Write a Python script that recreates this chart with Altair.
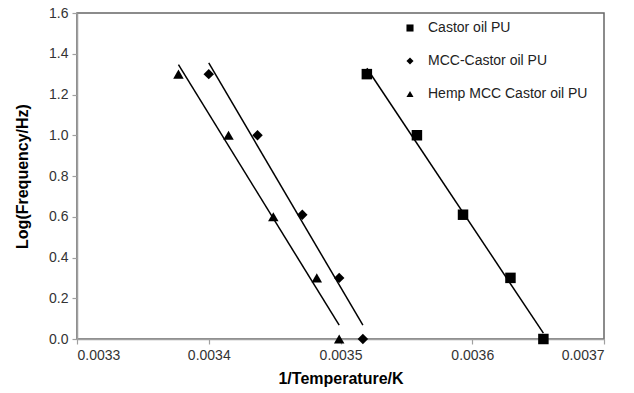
import altair as alt
import pandas as pd

series_names = ["Castor oil PU", "MCC-Castor oil PU", "Hemp MCC Castor oil PU"]

castor_x = [0.003520, 0.003558, 0.003593, 0.003629, 0.003654]
castor_y = [1.30, 1.00, 0.61, 0.30, 0.00]

mcc_x = [0.003400, 0.003437, 0.003471, 0.003499, 0.003517]
mcc_y = [1.30, 1.00, 0.61, 0.30, 0.00]

hemp_x = [0.003377, 0.003415, 0.003449, 0.003482, 0.003499]
hemp_y = [1.30, 1.00, 0.60, 0.30, 0.00]

x_ticks = [0.0033, 0.0034, 0.0035, 0.0036, 0.0037]
y_ticks = [0.0, 0.2, 0.4, 0.6, 0.8, 1.0, 1.2, 1.4, 1.6]

rows = []
for name, xs, ys in zip(series_names, [castor_x, mcc_x, hemp_x], [castor_y, mcc_y, hemp_y]):
    for xv, yv in zip(xs, ys):
        rows.append({"series": name, "invT": xv, "logf": yv})
df = pd.DataFrame(rows)

FONT = "Liberation Sans"

x_enc = alt.X(
    "invT:Q",
    scale=alt.Scale(domain=[0.0033, 0.0037], nice=False, zero=False),
    axis=alt.Axis(
        values=x_ticks, format=".4f", title="1/Temperature/K",
        grid=False, tickSize=5, labelPadding=4, titlePadding=8,
    ),
)
y_enc = alt.Y(
    "logf:Q",
    scale=alt.Scale(domain=[0, 1.6], nice=False),
    axis=alt.Axis(
        values=y_ticks, format=".1f", title="Log(Frequency/Hz)",
        grid=False, tickSize=5, labelPadding=4,
        titleX=-55, titleY=163, titleBaseline="middle", titleAngle=-90,
    ),
)

lines = alt.Chart(df).transform_regression(
    "invT", "logf", groupby=["series"], method="linear"
).mark_line(color="black", strokeWidth=1.5).encode(
    x=alt.X("invT:Q", scale=alt.Scale(domain=[0.0033, 0.0037], nice=False, zero=False)),
    y=alt.Y("logf:Q", scale=alt.Scale(domain=[0, 1.6], nice=False)),
    detail="series:N",
)

points = alt.Chart(df).mark_point(filled=True, color="black", opacity=1, size=110).encode(
    x=x_enc,
    y=y_enc,
    shape=alt.Shape(
        "series:N",
        scale=alt.Scale(domain=series_names, range=["square", "diamond", "triangle-up"]),
        legend=alt.Legend(
            title=None, orient="none", legendX=326, legendY=8,
            symbolSize=50, symbolFillColor="black", symbolStrokeColor="black",
            labelFontSize=14, labelFont=FONT, labelColor="#222",
            rowPadding=19, labelOffset=11, padding=0,
        ),
    ),
)

chart = alt.layer(lines, points).properties(
    width=527, height=326,
    autosize=alt.AutoSizeParams(type="none"),
    padding={"left": 77, "top": 13, "right": 30, "bottom": 54},
).configure_view(
    stroke="#666666", strokeWidth=1.5,
).configure_axis(
    labelFont=FONT, labelFontSize=14, labelColor="#333333",
    titleFont=FONT, titleFontSize=16, titleFontWeight="bold", titleColor="black",
    domainColor="#a0a0a0", domainWidth=1.5, tickColor="#a0a0a0", tickWidth=1.2,
)

chart.save("out.html", embed_options={"renderer": "svg", "actions": False})
